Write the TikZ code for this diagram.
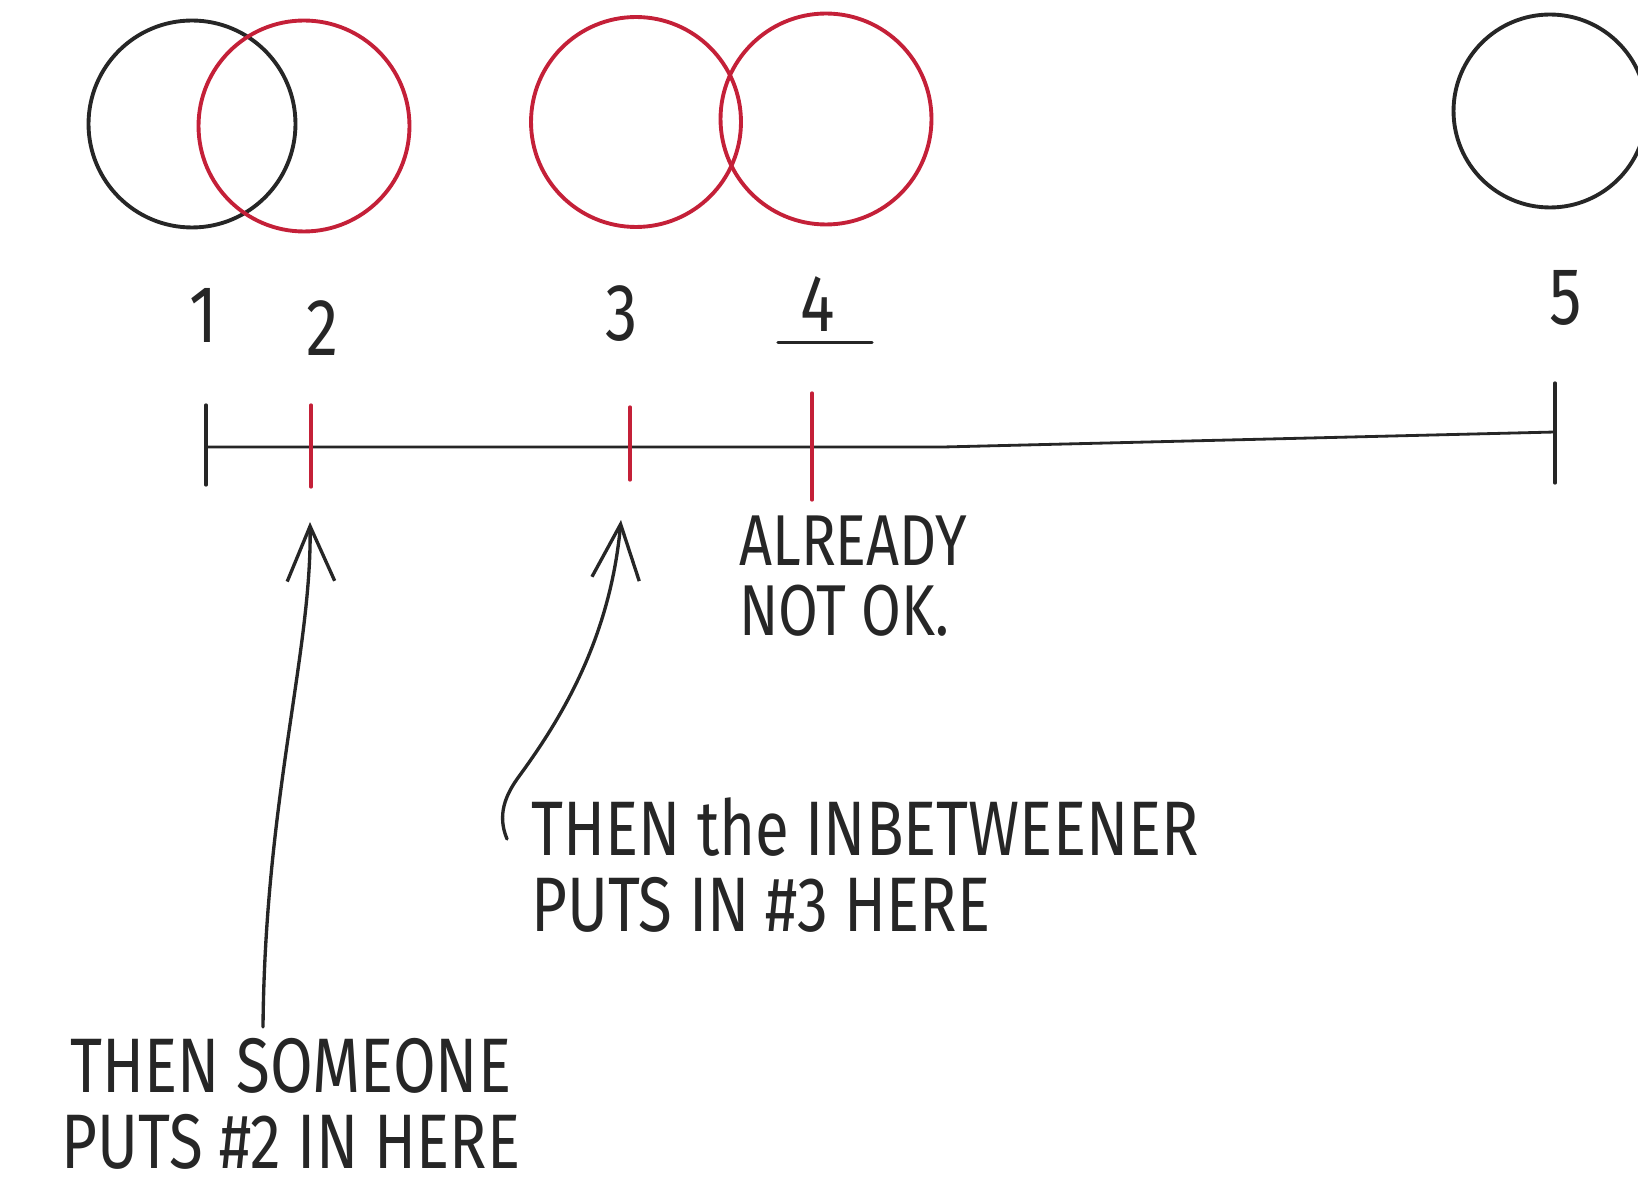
\documentclass[tikz,border=0pt]{standalone}
\usepackage{fontspec}
\newfontfamily\handfont{Fira Sans}[FakeStretch=0.8]
\usepackage{xcolor}
\usepackage{tikz}
\usetikzlibrary{arrows.meta}
\definecolor{pencilred}{RGB}{196,32,56}
\definecolor{pencil}{RGB}{38,38,38}

\begin{document}
\begin{tikzpicture}[x=0.02cm, y=-0.02cm,
  ring/.style={draw, circle, line width=2.2pt, inner sep=0pt},
  blackring/.style={ring, draw=pencil},
  redring/.style={ring, draw=pencilred},
  num/.style={font=\handfont\fontsize{46}{46}\selectfont, text=pencil, inner sep=0pt},
  note/.style={font=\handfont\fontsize{44}{43}\selectfont, text=pencil, inner sep=0pt},
  tickmark/.style={line width=1.9pt, line cap=round},
  arr/.style={-{Straight Barb[length=1.1cm, width=0.95cm]}, line width=1.9pt,
    draw=pencil, line cap=round}]
  \useasboundingbox (0,0) rectangle (1638,1192);
  \clip (0,0) rectangle (1638,1192);
  % Circles
  \node[blackring, minimum size=4.14cm] (c1) at (192,124) {};
  \node[redring,   minimum size=4.22cm] (c2) at (304,126) {};
  \node[redring,   minimum size=4.2cm]  (c3) at (636,122) {};
  \node[redring,   minimum size=4.22cm] (c4) at (826,119) {};
  \node[blackring, minimum size=3.86cm] (c5) at (1550,111) {};
  % Numbers
  \node[num] (n1) at (203,315) {1};
  \node[num] (n2) at (322,328) {2};
  \node[num] (n3) at (622,314) {3};
  \node[num] (n4) at (818,304) {4};
  \node[num] (n5) at (1566,298) {5};
  \draw[pencil, line width=1.9pt, line cap=round]
    ([xshift=-0.8cm, yshift=-0.22cm]n4.south) -- ([xshift=1.08cm, yshift=-0.22cm]n4.south);
  % Axis
  \coordinate (t1) at (206,447);
  \coordinate (t2) at (311,447);
  \coordinate (t3) at (630,447);
  \coordinate (t4) at (812,447);
  \coordinate (bend) at (943,447);
  \coordinate (t5) at (1555,432);
  \draw[pencil, line width=1.6pt] (t1) -- (bend) -- (t5);
  \draw[tickmark, pencil]    (t1) ++(0,-42) -- ++(0,80);
  \draw[tickmark, pencilred] (t2) ++(0,-42) -- ++(0,82);
  \draw[tickmark, pencilred] (t3) ++(0,-40) -- ++(0,73);
  \draw[tickmark, pencilred] (t4) ++(0,-54) -- ++(0,107);
  \draw[tickmark, pencil]    (t5) ++(0,-49) -- ++(0,100);
  % Notes
  \node[note, align=left, font=\handfont\fontsize{41}{40}\selectfont]
    (txtnok) at (853,576) {ALREADY\\NOT OK.};
  \node[note, align=left, anchor=west] (txtinb) at (531,865)
    {THEN the INBETWEENER\\PUTS IN \#3 HERE};
  \node[note, align=center] (txtsome) at (291,1104)
    {THEN SOMEONE\\PUTS \#2 IN HERE};
  % Arrows
  \coordinate (a2tip) at (310,522);
  \coordinate (a2tail) at (263,1027);
  \coordinate (a3tip) at (621,520);
  \coordinate (a3tail) at (507,839);
  \draw[arr] (a2tail) .. controls (265,800) and (312,650) .. (a2tip);
  \draw[arr] (a3tail) .. controls (497,815) and (505,795) .. (520,775)
    .. controls (560,720) and (610,640) .. (a3tip);
\end{tikzpicture}
\end{document}
